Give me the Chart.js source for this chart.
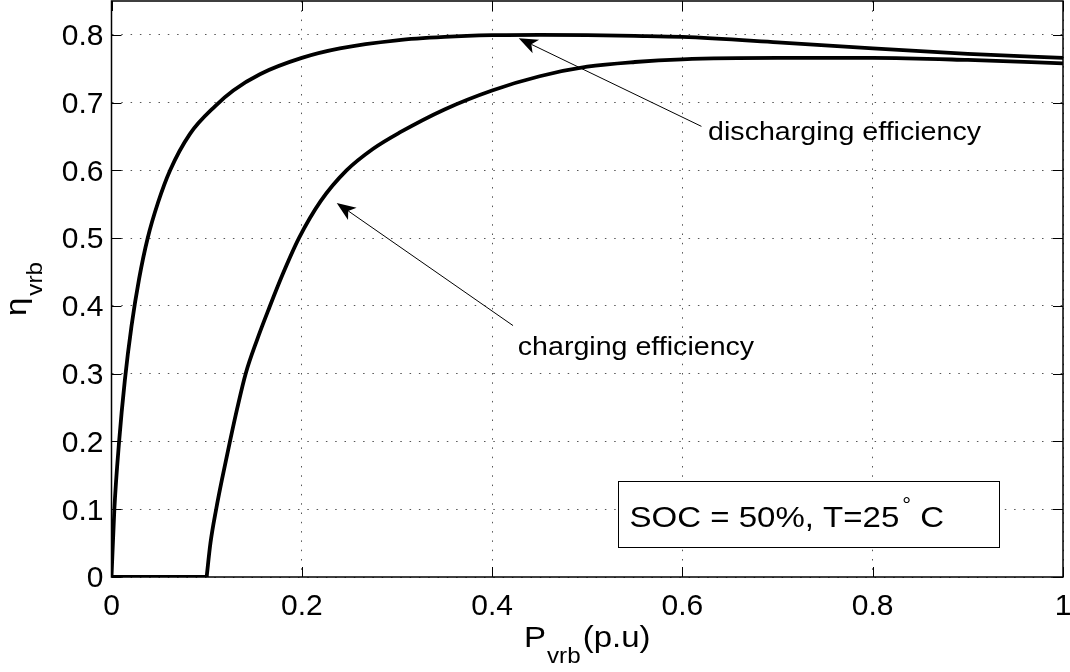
<!DOCTYPE html>
<html>
<head>
<meta charset="utf-8">
<script src="https://cdn.jsdelivr.net/npm/chart.js@4.4.1/dist/chart.umd.min.js"></script>
<style>
  html, body { margin: 0; padding: 0; background: #fff; }
  #wrap { width: 1070px; height: 672px; }
</style>
</head>
<body>
<div id="wrap"><canvas id="c" width="1070" height="672"></canvas></div>
<script>
// ---- data ----
const chargeX = [0, 0.1, 0.104, 0.11, 0.117, 0.1245, 0.132, 0.141, 0.153, 0.166, 0.18, 0.197, 0.22, 0.247, 0.275, 0.303, 0.35, 0.4, 0.45, 0.5, 0.55, 0.6, 0.7, 0.8, 0.9, 1.0];
const chargeY = [0, 0, 0.05, 0.1, 0.15, 0.2, 0.248, 0.3, 0.35, 0.398, 0.447, 0.5, 0.555, 0.6, 0.632, 0.656, 0.69, 0.718, 0.739, 0.753, 0.76, 0.764, 0.766, 0.766, 0.763, 0.758];

const dischargeX = [0, 0.003, 0.008, 0.014, 0.021, 0.029, 0.038, 0.049, 0.0615, 0.0825, 0.109, 0.128, 0.156, 0.2, 0.24, 0.3, 0.35, 0.4, 0.45, 0.5, 0.55, 0.6, 0.7, 0.8, 0.9, 1.0];
const dischargeY = [0, 0.1, 0.2, 0.29, 0.37, 0.44, 0.5, 0.553, 0.6, 0.654, 0.695, 0.718, 0.742, 0.766, 0.78, 0.792, 0.797, 0.7995, 0.8, 0.7995, 0.7985, 0.797, 0.789, 0.78, 0.772, 0.766];

const xTicks = [0, 0.2, 0.4, 0.6, 0.8, 1];
const xTickLabels = ['0', '0.2', '0.4', '0.6', '0.8', '1'];
const yTicks = [0, 0.1, 0.2, 0.3, 0.4, 0.5, 0.6, 0.7, 0.8];
const yTickLabels = ['0', '0.1', '0.2', '0.3', '0.4', '0.5', '0.6', '0.7', '0.8'];

const xTitleMain = 'P', xTitleSub = 'vrb', xTitleTail = '(p.u)';
const yTitleMain = 'η', yTitleSub = 'vrb';
const annotationTexts = ['discharging efficiency', 'charging efficiency'];
const boxTextMain = 'SOC = 50%, T=25', boxTextSup = '°', boxTextTail = ' C';

// ---- layout / style (not data) ----
const FONT = "'Liberation Sans', Arial, Helvetica, sans-serif";
const SX = 1.1; // horizontal text widening seen in reference
const annotations = [
  { text: annotationTexts[0], textAt: [0.627, 0.6453], tail: [0.62, 0.665], tip: [0.428, 0.795] },
  { text: annotationTexts[1], textAt: [0.427, 0.3275], tail: [0.422, 0.371], tip: [0.2367, 0.552] }
];
const infoBox = { x0: 0.532, x1: 0.932, y0: 0.142, y1: 0.0446, textX: 0.5445, textY: 0.0745 };

function pts(xs, ys, from, to) {
  const out = [];
  for (let i = from; i < to; i++) out.push({ x: xs[i], y: ys[i] });
  return out;
}
// the charging curve is flat at zero until it starts rising (sharp corner)
const chargeKnee = chargeY.findIndex((v, i) => i > 0 && v > 0) - 1;

function drawStretched(ctx, text, x, y, size, align) {
  ctx.save();
  ctx.font = size + 'px ' + FONT;
  const w = ctx.measureText(text).width * SX;
  ctx.translate(align === 'center' ? x - w / 2 : x, y);
  ctx.scale(SX, 1);
  ctx.textAlign = 'left';
  ctx.fillText(text, 0, 0);
  ctx.restore();
  return w;
}
function measure(ctx, text, size) {
  ctx.save(); ctx.font = size + 'px ' + FONT;
  const w = ctx.measureText(text).width * SX; ctx.restore(); return w;
}

const decorPlugin = {
  id: 'decor',
  afterDraw(chart) {
    const ctx = chart.ctx;
    const a = chart.chartArea;
    const xs = chart.scales.x, ys = chart.scales.y;
    ctx.save();
    ctx.fillStyle = '#000';
    ctx.strokeStyle = '#000';
    ctx.textBaseline = 'alphabetic';

    // inner tick marks on all four sides
    ctx.lineWidth = 1;
    ctx.beginPath();
    xTicks.forEach(v => {
      const px = Math.round(xs.getPixelForValue(v)) + 0.5;
      ctx.moveTo(px, a.bottom); ctx.lineTo(px, a.bottom - 10);
      ctx.moveTo(px, a.top); ctx.lineTo(px, a.top + 10);
    });
    yTicks.forEach(v => {
      const py = Math.round(ys.getPixelForValue(v)) + 0.5;
      ctx.moveTo(a.left, py); ctx.lineTo(a.left + 10, py);
      ctx.moveTo(a.right, py); ctx.lineTo(a.right - 10, py);
    });
    ctx.stroke();

    // axes box
    ctx.lineWidth = 1.5;
    ctx.strokeRect(a.left, a.top, a.right - a.left, a.bottom - a.top);

    // arrows + annotation texts
    annotations.forEach(an => {
      const tx = xs.getPixelForValue(an.tip[0]), ty = ys.getPixelForValue(an.tip[1]);
      const lx = xs.getPixelForValue(an.tail[0]), ly = ys.getPixelForValue(an.tail[1]);
      const dx = lx - tx, dy = ly - ty, len = Math.hypot(dx, dy);
      const ux = dx / len, uy = dy / len, nx = -uy, ny = ux;
      const L = 19, W = 7.5, N = 14;
      ctx.lineWidth = 1;
      ctx.beginPath();
      ctx.moveTo(tx + ux * N, ty + uy * N);
      ctx.lineTo(lx, ly);
      ctx.stroke();
      ctx.beginPath();
      ctx.moveTo(tx, ty);
      ctx.lineTo(tx + ux * L + nx * W, ty + uy * L + ny * W);
      ctx.lineTo(tx + ux * N, ty + uy * N);
      ctx.lineTo(tx + ux * L - nx * W, ty + uy * L - ny * W);
      ctx.closePath();
      ctx.fill();
      drawStretched(ctx, an.text, xs.getPixelForValue(an.textAt[0]), ys.getPixelForValue(an.textAt[1]), 26, 'left');
    });

    // info box
    const bx0 = xs.getPixelForValue(infoBox.x0), bx1 = xs.getPixelForValue(infoBox.x1);
    const by0 = ys.getPixelForValue(infoBox.y0), by1 = ys.getPixelForValue(infoBox.y1);
    ctx.fillStyle = '#fff';
    ctx.fillRect(bx0, by0, bx1 - bx0, by1 - by0);
    ctx.fillStyle = '#000';
    ctx.lineWidth = 1;
    ctx.strokeRect(Math.round(bx0) + 0.5, Math.round(by0) + 0.5, Math.round(bx1 - bx0), Math.round(by1 - by0));
    let bx = xs.getPixelForValue(infoBox.textX);
    const bb = ys.getPixelForValue(infoBox.textY);
    bx += drawStretched(ctx, boxTextMain, bx, bb, 30, 'left');
    bx += 3;
    bx += drawStretched(ctx, boxTextSup, bx, bb - 15, 20, 'left');
    drawStretched(ctx, boxTextTail, bx, bb, 30, 'left');

    // x axis title with subscript
    const cx = (a.left + a.right) / 2;
    const wP = measure(ctx, xTitleMain, 30), wS = measure(ctx, xTitleSub, 22), wT = measure(ctx, xTitleTail, 30);
    const total = wP + 1 + wS + 2 + wT;
    let px = cx - total / 2;
    const base = 647;
    px += drawStretched(ctx, xTitleMain, px, base, 30, 'left') + 1;
    px += drawStretched(ctx, xTitleSub, px, base + 16, 22, 'left') + 2;
    drawStretched(ctx, xTitleTail, px, base, 30, 'left');

    // y axis title (rotated) with subscript
    const cy = (a.top + a.bottom) / 2;
    const wE = measure(ctx, yTitleMain, 30), wV = measure(ctx, yTitleSub, 22);
    const ytot = wE + 2 + wV;
    ctx.save();
    ctx.translate(26, cy + ytot / 2);
    ctx.rotate(-Math.PI / 2);
    let qx = 0;
    qx += drawStretched(ctx, yTitleMain, qx, 0, 30, 'left') + 2;
    drawStretched(ctx, yTitleSub, qx, 16, 22, 'left');
    ctx.restore();

    ctx.restore();
  }
};

const tickFont = { family: FONT, size: 30 };

new Chart(document.getElementById('c'), {
  type: 'line',
  data: {
    datasets: [
      { label: 'charging efficiency (zero part)', data: pts(chargeX, chargeY, 0, chargeKnee + 1) },
      { label: 'charging efficiency', data: pts(chargeX, chargeY, chargeKnee, chargeX.length) },
      { label: 'discharging efficiency', data: pts(dischargeX, dischargeY, 0, dischargeX.length) }
    ]
  },
  options: {
    responsive: false,
    animation: false,
    devicePixelRatio: 1,
    layout: { padding: { top: 1, right: 7, left: 0, bottom: 0 } },
    elements: {
      point: { radius: 0, hoverRadius: 0 },
      line: { borderColor: '#000', borderWidth: 3.8, cubicInterpolationMode: 'monotone', fill: false, borderCapStyle: 'round', borderJoinStyle: 'round' }
    },
    plugins: { legend: { display: false }, tooltip: { enabled: false }, title: { display: false } },
    scales: {
      x: {
        type: 'linear', min: 0, max: 1,
        afterBuildTicks: s => { s.ticks = xTicks.map(v => ({ value: v })); },
        afterFit: s => { s.height = 95; s.paddingLeft = 0; s.paddingRight = 0; },
        ticks: {
          autoSkip: false, maxRotation: 0, color: '#000', font: tickFont, padding: 12,
          callback: (v, i) => xTickLabels[i]
        },
        grid: { drawTicks: false, color: '#555', lineWidth: 1 },
        border: { display: false, dash: [1.5, 7.8] }
      },
      y: {
        type: 'linear', min: 0, max: 0.85,
        afterBuildTicks: s => { s.ticks = yTicks.map(v => ({ value: v })); },
        afterFit: s => { s.width = 111.5; s.paddingTop = 0; s.paddingBottom = 0; },
        ticks: {
          autoSkip: false, color: '#000', font: tickFont, padding: 8, labelOffset: 2,
          callback: (v, i) => yTickLabels[i]
        },
        grid: { drawTicks: false, color: '#555', lineWidth: 1 },
        border: { display: false, dash: [1.5, 7.8] }
      }
    }
  },
  plugins: [decorPlugin]
});
</script>
</body>
</html>
